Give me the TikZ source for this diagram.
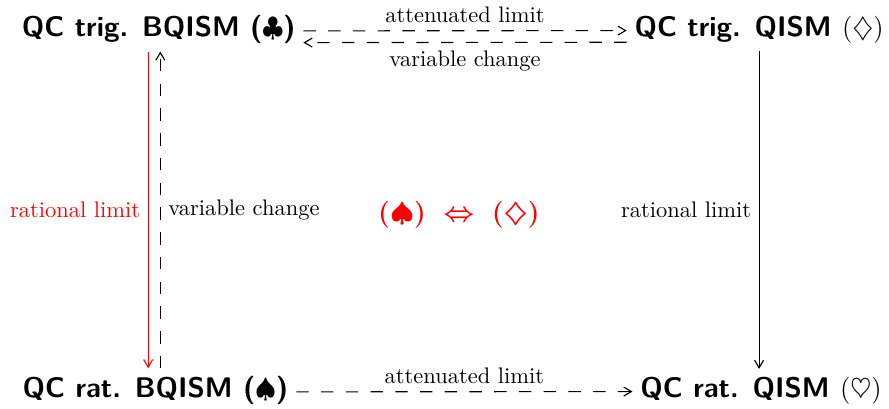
\documentclass[tikz,border=0pt]{standalone}
\usepackage{amssymb}
\usetikzlibrary{arrows.meta}
\begin{document}
\begin{tikzpicture}[
  x=1cm,
  y=1cm,
  >={Straight Barb[length=3.4pt,width=4pt]},
  model/.style={font=\fontsize{12.6pt}{15pt}\selectfont\bfseries\sffamily},
  lbl/.style={font=\normalsize, inner sep=3.3pt},
  arr/.style={->, line width=0.5pt},
  dsh/.style={->, line width=0.5pt, dash pattern=on 5.5pt off 5.5pt},
  rat/.style={->, line width=0.5pt, draw=red}
]
\useasboundingbox (0,0) rectangle (13.89,6.39);

% ---------------------------------------------------------------------------
% the four models
% ---------------------------------------------------------------------------
\node[model] (tl) at (2.48,5.93) {QC trig. BQISM (\ensuremath{\clubsuit})};
\node[model] (tr) at (11.86,5.93) {QC trig. QISM $(\diamondsuit)$};
\node[model] (bl) at (2.43,0.29) {QC rat. BQISM (\ensuremath{\spadesuit})};
\node[model] (br) at (11.89,0.29) {QC rat. QISM $(\heartsuit)$};

% ---------------------------------------------------------------------------
% limits and changes
% ---------------------------------------------------------------------------
\draw[dsh] ([yshift=2.5pt]tl.base east) -- ([yshift=2.5pt]tr.base west)
  node[lbl, midway, above] (att1) {attenuated limit};
\draw[dsh] ([yshift=-2.7pt]tr.base west) -- ([yshift=-2.7pt]tl.base east)
  node[lbl, midway, below] (var1) {variable change};
\draw[dsh] ([yshift=2.5pt]bl.base east) -- ([yshift=2.5pt]br.base west)
  node[lbl, midway, above] (att2) {attenuated limit};

\draw[rat] ([xshift=-4.7pt]tl.south) -- ([xshift=-4.7pt]tl.south |- bl.north)
  node[lbl, midway, left, text=red] (rl1) {rational limit};
\draw[dsh] ([xshift=0.7pt]tl.south |- bl.north) -- ([xshift=0.7pt]tl.south)
  node[lbl, midway, right] (var2) {variable change};
\draw[arr] (tr.south) -- (tr.south |- br.north)
  node[lbl, midway, left] (rl2) {rational limit};

% equivalence in the middle
\node[font=\large\boldmath, text=red] (eqv) at (7.17,3.03)
  {$(\spadesuit)\ \Leftrightarrow\ (\diamondsuit)$};
\end{tikzpicture}
\end{document}
